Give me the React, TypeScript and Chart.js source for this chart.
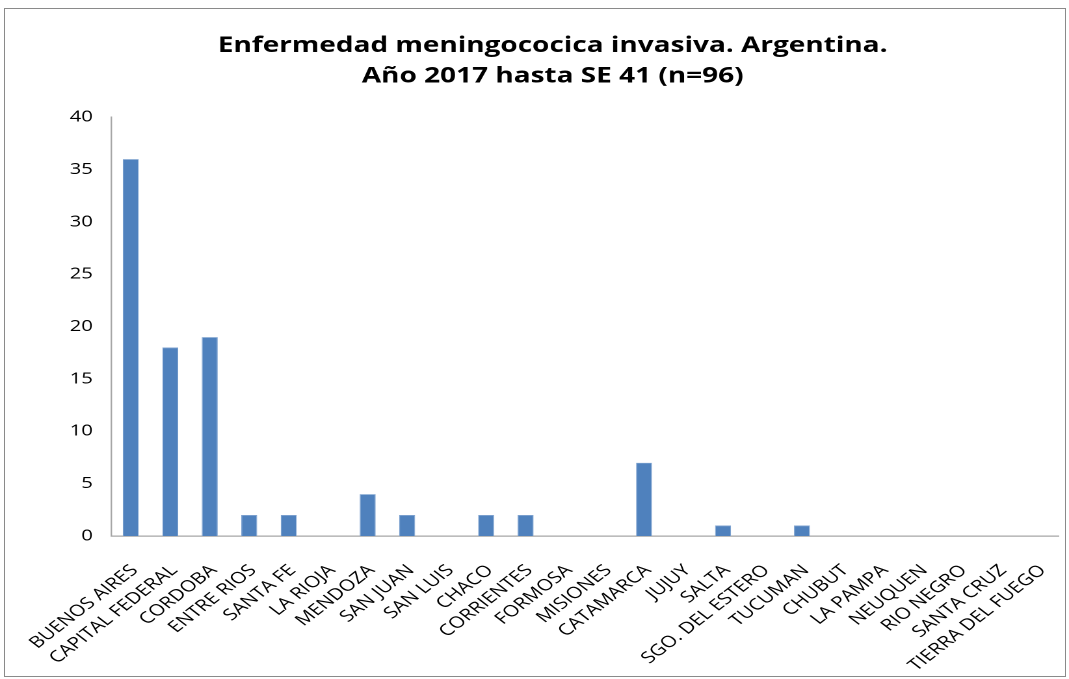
import React, { useEffect, useRef } from "react";
import { Chart, registerables } from "chart.js";

Chart.register(...registerables);

const titleLines = ["Enfermedad meningococica invasiva. Argentina.", "Año 2017 hasta SE 41 (n=96)"];
const provinces = [
  "BUENOS AIRES", "CAPITAL FEDERAL", "CORDOBA", "ENTRE RIOS", "SANTA FE", "LA RIOJA",
  "MENDOZA", "SAN JUAN", "SAN LUIS", "CHACO", "CORRIENTES", "FORMOSA", "MISIONES",
  "CATAMARCA", "JUJUY", "SALTA", "SGO. DEL ESTERO", "TUCUMAN", "CHUBUT", "LA PAMPA",
  "NEUQUEN", "RIO NEGRO", "SANTA CRUZ", "TIERRA DEL FUEGO",
];
const cases = [36, 18, 19, 2, 2, 0, 4, 2, 0, 2, 2, 0, 0, 7, 0, 1, 0, 1, 0, 0, 0, 0, 0, 0];
const yMin = 0;
const yMax = 40;
const yStep = 5;

const STRETCH = 1.3;
const LOGICAL_W = Math.round(1069 / STRETCH);
const H = 679;
const PAD_LEFT = 36;

export default function App() {
  const ref = useRef<HTMLCanvasElement | null>(null);
  useEffect(() => {
    if (!ref.current) return;
    const chart = new Chart(ref.current, {
      type: "bar",
      data: {
        labels: provinces,
        datasets: [
          {
            data: cases,
            backgroundColor: "#4F81BD",
            borderColor: "#7FA3D0",
            borderWidth: 0.6,
            categoryPercentage: 1,
            barPercentage: 0.405,
          },
        ],
      },
      options: {
        animation: false,
        responsive: false,
        maintainAspectRatio: false,
        devicePixelRatio: 2,
        layout: { padding: { left: PAD_LEFT, right: 8, top: 0, bottom: 0 } },
        plugins: {
          legend: { display: false },
          tooltip: { enabled: false },
          title: {
            display: true,
            text: titleLines,
            color: "#000",
            font: { family: "Open Sans", size: 21.5, weight: "bold", lineHeight: 1.4 },
            padding: { top: 31, bottom: 26 },
          },
        },
        scales: {
          x: {
            grid: { display: false, drawTicks: false },
            border: { display: true, color: "#A6A6A6", width: 1.2 },
            ticks: {
              color: "#000",
              font: { family: "Open Sans", size: 16 },
              maxRotation: 45,
              minRotation: 45,
              autoSkip: false,
              padding: 25,
              labelOffset: 3,
            },
            afterFit: (scale: any) => {
              scale.height = H - 536;
              scale.paddingLeft = 0;
              scale.paddingRight = 0;
            },
          },
          y: {
            min: yMin,
            max: yMax,
            grid: { display: false, drawTicks: false },
            border: { display: true, color: "#A6A6A6", width: 1.2 },
            ticks: {
              stepSize: yStep,
              color: "#000",
              font: { family: "Open Sans", size: 15.5 },
              padding: 14,
            },
            afterFit: (scale: any) => {
              scale.width = 111 / STRETCH - PAD_LEFT;
            },
          },
        },
      },
    });
    return () => chart.destroy();
  }, []);
  return (
    <div style={{ position: "fixed", left: 0, top: 0, width: 1069, height: H, background: "#fff", overflow: "hidden" }}>
      <div
        style={{
          position: "absolute",
          left: 0,
          top: 0,
          width: LOGICAL_W,
          height: H,
          transform: `scaleX(${1069 / LOGICAL_W})`,
          transformOrigin: "0 0",
        }}
      >
        <canvas ref={ref} width={LOGICAL_W} height={H} style={{ width: LOGICAL_W, height: H, display: "block" }} />
      </div>
      <div
        style={{
          position: "absolute",
          left: 4,
          top: 8,
          width: 1062,
          height: 669,
          border: "1px solid #8a8a8a",
          boxSizing: "border-box",
          pointerEvents: "none",
        }}
      />
    </div>
  );
}
